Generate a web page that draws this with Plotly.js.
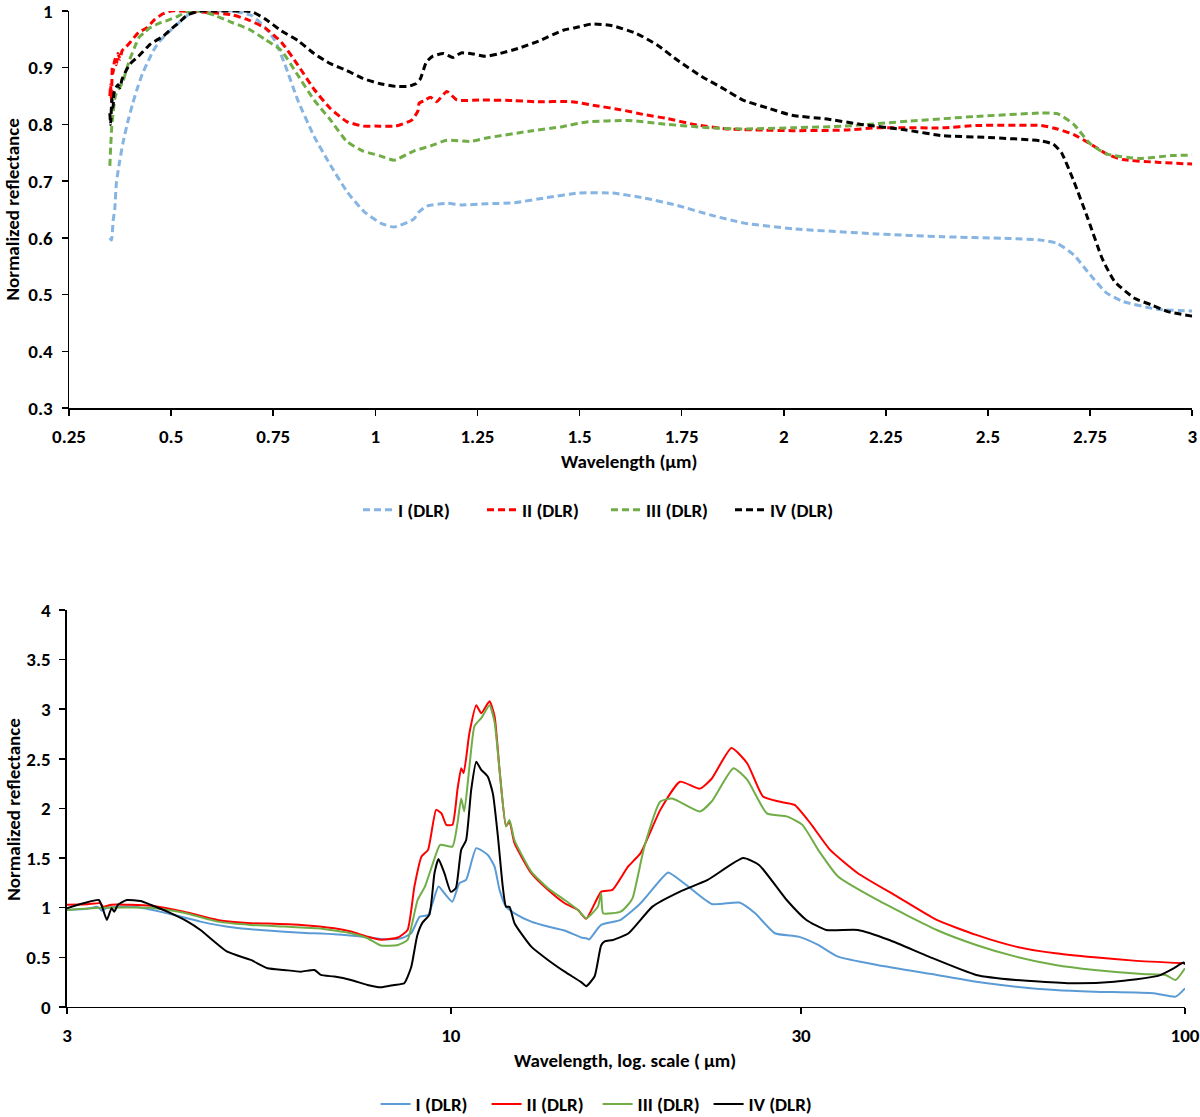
<!DOCTYPE html>
<html>
<head>
<meta charset="utf-8">
<script src="https://cdn.plot.ly/plotly-3.0.1.min.js"></script>
<style>
  body { margin: 0; background: #fff; }
  #chart { width: 1200px; height: 1117px; }
</style>
</head>
<body>
<div id="chart"></div>
<script>
//Series names (same for both panels)
var names = ['I (DLR)', 'II (DLR)', 'III (DLR)', 'IV (DLR)'];

//Top panel: VIS-NIR spectra, wavelength in um, linear scale
var visX1 = [0.35,0.354,0.358,0.362,0.366,0.374,0.382,0.394,0.406,0.418,0.43,0.443,0.455,0.47,0.49,0.52,0.544,0.57,0.60,0.648,0.697,0.73,0.754,0.778,0.81,0.85,0.891,0.932,0.973,1.013,1.046,1.094,1.106,1.126,1.175,1.21,1.272,1.34,1.42,1.498,1.58,1.66,1.74,1.822,1.903,2.024,2.226,2.388,2.55,2.63,2.67,2.71,2.75,2.79,2.83,2.915,3.0];
var visY1 = [0.60,0.596,0.63,0.65,0.697,0.735,0.767,0.805,0.837,0.865,0.89,0.91,0.928,0.945,0.96,0.98,0.994,1.0,1.0,1.0,0.992,0.971,0.948,0.907,0.843,0.779,0.727,0.68,0.646,0.626,0.619,0.633,0.645,0.656,0.661,0.658,0.66,0.662,0.671,0.679,0.679,0.67,0.657,0.64,0.626,0.616,0.607,0.602,0.599,0.596,0.59,0.57,0.535,0.503,0.488,0.474,0.471];

var visX2 = [0.35,0.352,0.354,0.356,0.358,0.362,0.366,0.37,0.375,0.38,0.39,0.40,0.42,0.44,0.46,0.48,0.50,0.55,0.60,0.65,0.69,0.73,0.77,0.81,0.85,0.89,0.93,0.97,1.00,1.05,1.09,1.105,1.107,1.12,1.135,1.15,1.175,1.20,1.26,1.34,1.39,1.48,1.54,1.60,1.66,1.71,1.78,1.86,1.95,2.02,2.15,2.23,2.39,2.47,2.63,2.67,2.71,2.75,2.79,2.83,2.92,3.0];
var visY2 = [0.85,0.87,0.84,0.9,0.89,0.915,0.905,0.925,0.915,0.93,0.937,0.945,0.962,0.97,0.985,0.995,1.0,0.999,0.997,0.993,0.984,0.97,0.945,0.905,0.862,0.828,0.805,0.797,0.797,0.797,0.808,0.825,0.837,0.842,0.848,0.84,0.858,0.843,0.843,0.842,0.84,0.84,0.833,0.826,0.817,0.811,0.80,0.792,0.79,0.789,0.79,0.794,0.794,0.798,0.798,0.792,0.782,0.766,0.748,0.738,0.733,0.73];

var visX3 = [0.35,0.352,0.355,0.358,0.362,0.366,0.374,0.382,0.39,0.398,0.41,0.422,0.435,0.447,0.47,0.49,0.515,0.536,0.568,0.608,0.648,0.69,0.73,0.77,0.81,0.85,0.89,0.93,0.97,1.01,1.046,1.094,1.135,1.175,1.232,1.272,1.377,1.458,1.514,1.62,1.70,1.82,1.90,2.02,2.15,2.31,2.47,2.63,2.67,2.71,2.75,2.79,2.87,2.95,3.0];
var visY3 = [0.727,0.76,0.80,0.82,0.845,0.855,0.865,0.875,0.895,0.913,0.935,0.954,0.962,0.97,0.978,0.983,0.99,0.998,1.0,0.992,0.98,0.968,0.95,0.93,0.887,0.843,0.808,0.77,0.753,0.745,0.737,0.753,0.762,0.772,0.77,0.776,0.788,0.796,0.804,0.807,0.801,0.794,0.792,0.794,0.797,0.806,0.814,0.82,0.819,0.80,0.766,0.748,0.74,0.745,0.746];

var visX4 = [0.35,0.352,0.355,0.358,0.36,0.365,0.37,0.375,0.38,0.39,0.40,0.42,0.45,0.48,0.50,0.52,0.54,0.57,0.60,0.65,0.68,0.70,0.73,0.77,0.81,0.85,0.89,0.93,0.97,1.01,1.05,1.08,1.10,1.11,1.125,1.14,1.167,1.19,1.21,1.24,1.27,1.30,1.35,1.40,1.46,1.50,1.53,1.58,1.64,1.69,1.74,1.80,1.85,1.90,1.96,2.02,2.10,2.19,2.30,2.39,2.50,2.63,2.66,2.68,2.71,2.745,2.78,2.81,2.86,2.90,2.94,3.0];
var visY4 = [0.82,0.80,0.845,0.83,0.855,0.865,0.87,0.865,0.88,0.895,0.907,0.92,0.942,0.955,0.968,0.98,0.993,1.0,1.0,1.0,1.0,0.998,0.986,0.965,0.948,0.925,0.907,0.895,0.881,0.872,0.867,0.867,0.872,0.88,0.91,0.92,0.925,0.918,0.926,0.924,0.92,0.924,0.934,0.947,0.966,0.972,0.977,0.974,0.96,0.94,0.913,0.884,0.864,0.843,0.829,0.816,0.81,0.80,0.79,0.78,0.777,0.771,0.765,0.75,0.70,0.633,0.563,0.523,0.493,0.482,0.47,0.462];

//Bottom panel: TIR spectra, wavelength in um, log scale
var tirX1 = [3.0,3.2,3.3,3.35,3.4,3.71,4.11,4.56,5.06,5.63,6.25,6.94,7.70,8.12,8.56,8.83,9.07,9.31,9.62,9.80,10.05,10.27,10.49,10.83,11.23,11.47,11.65,11.89,12.21,12.87,13.56,14.29,15.05,15.29,15.43,16.02,17.03,18.13,19.29,19.77,20.78,22.66,24.71,25.97,27.62,29.76,31.65,33.68,38.1,45.9,51.95,58.83,66.6,75.3,90.7,97.1,100];
var tirY1 = [0.978,0.99,1.01,0.97,1.0,1.01,0.944,0.86,0.80,0.77,0.749,0.733,0.703,0.682,0.692,0.743,0.91,0.927,1.213,1.146,1.061,1.247,1.28,1.60,1.532,1.414,1.18,1.011,0.944,0.86,0.81,0.77,0.70,0.692,0.68,0.827,0.877,1.045,1.28,1.354,1.247,1.038,1.052,0.944,0.743,0.709,0.625,0.507,0.423,0.323,0.255,0.205,0.171,0.154,0.138,0.104,0.188];

var tirX2 = [3.0,3.2,3.33,3.36,3.45,3.9,4.33,4.81,5.34,5.63,6.25,6.94,7.31,7.70,8.03,8.47,8.73,8.92,9.12,9.31,9.55,9.71,9.86,10.05,10.21,10.33,10.41,10.6,10.83,11.0,11.29,11.47,11.65,11.89,12.02,12.21,12.87,13.56,14.29,14.9,15.29,16.03,16.6,17.43,18.13,19.29,20.52,21.83,22.66,24.11,25.33,26.62,27.97,29.39,30.89,32.86,35.84,40.56,45.9,51.95,58.83,66.6,75.3,85.2,100];
var tirY2 = [1.03,1.035,1.045,1.01,1.03,1.02,0.96,0.877,0.844,0.84,0.827,0.793,0.76,0.709,0.678,0.70,0.776,1.213,1.515,1.583,1.986,1.95,1.835,1.835,2.19,2.406,2.355,2.76,3.04,2.96,3.08,2.93,2.39,1.82,1.87,1.65,1.348,1.18,1.045,0.978,0.89,1.162,1.18,1.414,1.55,1.986,2.27,2.20,2.30,2.61,2.456,2.12,2.07,2.036,1.85,1.583,1.348,1.112,0.877,0.726,0.608,0.541,0.50,0.467,0.44];

var tirX3 = [3.0,3.33,3.9,4.33,4.81,5.34,5.93,6.58,7.31,7.70,8.03,8.47,8.73,9.01,9.22,9.47,9.67,10.05,10.21,10.33,10.43,10.6,10.77,11.0,11.29,11.47,11.65,11.89,12.02,12.21,12.87,13.56,14.29,14.9,15.29,15.86,16.02,16.12,16.6,17.03,17.43,17.69,18.35,19.29,20.02,21.83,22.66,24.26,25.33,26.95,28.67,30.12,31.65,33.68,38.1,45.9,51.95,58.83,66.6,75.3,87.4,94.1,97.1,100];
var tirY3 = [0.978,1.0,1.0,0.95,0.86,0.827,0.81,0.793,0.743,0.692,0.62,0.625,0.675,1.078,1.213,1.465,1.633,1.616,1.85,2.10,1.97,2.42,2.83,2.91,3.04,2.87,2.39,1.82,1.885,1.68,1.364,1.196,1.078,0.978,0.894,1.011,1.146,0.944,0.944,0.96,1.03,1.10,1.616,2.07,2.10,1.97,2.07,2.406,2.29,1.95,1.92,1.835,1.583,1.314,1.078,0.776,0.625,0.507,0.423,0.373,0.333,0.323,0.272,0.39];

var tirX4 = [3.0,3.16,3.315,3.35,3.40,3.45,3.48,3.52,3.62,3.78,3.90,4.11,4.38,4.56,4.96,5.34,5.63,5.93,6.25,6.52,6.65,6.94,7.31,7.70,8.03,8.37,8.64,8.83,9.0,9.15,9.35,9.50,9.62,9.80,10.0,10.16,10.33,10.49,10.66,10.83,11.0,11.23,11.41,11.59,11.77,11.89,12.02,12.21,12.87,13.56,14.29,15.05,15.29,15.7,16.02,16.2,16.62,17.46,18.82,20.52,22.38,25.01,26.29,28.67,30.5,32.45,35.84,39.56,44.78,51.95,58.83,70.8,80.1,91.9,96.5,99.5,100];
var tirY4 = [0.995,1.045,1.078,1.01,0.877,0.995,0.96,1.03,1.078,1.068,1.03,0.96,0.86,0.776,0.557,0.474,0.39,0.373,0.356,0.373,0.323,0.306,0.272,0.222,0.198,0.222,0.239,0.40,0.72,0.85,0.93,1.348,1.49,1.348,1.16,1.20,1.583,1.68,2.19,2.47,2.39,2.32,2.15,1.72,1.21,1.01,1.01,0.844,0.608,0.474,0.356,0.25,0.21,0.31,0.62,0.66,0.675,0.743,1.011,1.162,1.28,1.50,1.431,1.078,0.877,0.776,0.776,0.675,0.507,0.323,0.272,0.239,0.255,0.313,0.39,0.447,0.43];

//Tick values and labels
var visXTicks = [0.25,0.5,0.75,1,1.25,1.5,1.75,2,2.25,2.5,2.75,3];
var visXTickText = ['0.25','0.5','0.75','1','1.25','1.5','1.75','2','2.25','2.5','2.75','3'];
var visYTicks = [0.3,0.4,0.5,0.6,0.7,0.8,0.9,1];
var visYTickText = ['0.3','0.4','0.5','0.6','0.7','0.8','0.9','1'];
var tirXTicks = [3,10,30,100];
var tirXTickText = ['3','10','30','100'];
var tirYTicks = [0,0.5,1,1.5,2,2.5,3,3.5,4];
var tirYTickText = ['0','0.5','1','1.5','2','2.5','3','3.5','4'];

var visXs = [visX1, visX2, visX3, visX4];
var visYs = [visY1, visY2, visY3, visY4];
var tirXs = [tirX1, tirX2, tirX3, tirX4];
var tirYs = [tirY1, tirY2, tirY3, tirY4];

var visColors = ['#86B4E3', '#FF0000', '#70AD47', '#000000'];
var tirColors = ['#5B9BD5', '#FF0000', '#70AD47', '#000000'];

var FONT = "Carlito, 'Liberation Sans Narrow', 'DejaVu Sans Condensed', sans-serif";

var data = [];
//Top panel traces (dashed)
for (var i = 0; i < 4; i++) {
    data.push({
        x: visXs[i], y: visYs[i], xaxis: 'x', yaxis: 'y',
        type: 'scatter', mode: 'lines', name: names[i], legend: 'legend',
        line: {color: visColors[i], width: 3, dash: '7px,4px', shape: 'spline', smoothing: 0.5}
    });
}
//Bottom panel traces (solid)
for (var i = 0; i < 4; i++) {
    data.push({
        x: tirXs[i], y: tirYs[i], xaxis: 'x2', yaxis: 'y2',
        type: 'scatter', mode: 'lines', name: names[i], legend: 'legend2',
        line: {color: tirColors[i], width: 2, shape: 'spline', smoothing: 0.5}
    });
}

var tickFont = {family: FONT, size: 19, color: '#000', weight: 'bold'};
var axisCommon = {
    showline: true, linecolor: '#000', linewidth: 1.5, mirror: false,
    showgrid: false, zeroline: false, ticks: 'outside', ticklen: 6,
    tickwidth: 1.5, tickcolor: '#000', tickfont: tickFont, fixedrange: true,
    tickmode: 'array', ticklabeloverflow: 'allow', ticklabelstandoff: 5
};

function ax(extra) {
    var o = {};
    for (var k in axisCommon) o[k] = axisCommon[k];
    for (var k in extra) o[k] = extra[k];
    return o;
}

var titleFont = {family: FONT, size: 19, color: '#000', weight: 'bold'};
var legendFont = {family: FONT, size: 19, color: '#000', weight: 'bold'};

var layout = {
    width: 1200, height: 1117,
    margin: {l: 0, r: 0, t: 0, b: 0, autoexpand: false},
    paper_bgcolor: '#fff', plot_bgcolor: '#fff',
    font: {family: FONT, size: 19, color: '#000'},
    xaxis: ax({domain: [0.0575, 0.9935], anchor: 'y', range: [0.25, 3],
        tickvals: visXTicks, ticktext: visXTickText}),
    yaxis: ax({domain: [0.6347, 0.9902], anchor: 'x', range: [0.3, 1],
        tickvals: visYTicks, ticktext: visYTickText}),
    xaxis2: ax({domain: [0.0558, 0.9875], anchor: 'y2', type: 'log',
        range: [Math.log10(3), 2], tickvals: tirXTicks, ticktext: tirXTickText}),
    yaxis2: ax({domain: [0.0985, 0.4539], anchor: 'x2', range: [0, 4],
        tickvals: tirYTicks, ticktext: tirYTickText}),
    legend: {orientation: 'h', x: 0.505, xanchor: 'center', y: 0.5434, yanchor: 'middle',
        font: legendFont, bgcolor: 'rgba(0,0,0,0)', itemwidth: 30,
        entrywidth: 79, entrywidthmode: 'pixels'},
    legend2: {orientation: 'h', x: 0.498, xanchor: 'center', y: 0.0116, yanchor: 'middle',
        font: legendFont, bgcolor: 'rgba(0,0,0,0)', itemwidth: 30,
        entrywidth: 66, entrywidthmode: 'pixels'},
    annotations: [
        {text: 'Wavelength (µm)', xref: 'paper', yref: 'paper', x: 0.5242, y: 0.5864,
         xanchor: 'center', yanchor: 'middle', showarrow: false, font: titleFont},
        {text: 'Wavelength, log. scale ( µm)', xref: 'paper', yref: 'paper', x: 0.5208, y: 0.0510,
         xanchor: 'center', yanchor: 'middle', showarrow: false, font: titleFont},
        {text: 'Normalized reflectance', xref: 'paper', yref: 'paper', x: 0.0105, y: 0.812,
         xanchor: 'center', yanchor: 'middle', showarrow: false, textangle: -90, font: titleFont},
        {text: 'Normalized reflectance', xref: 'paper', yref: 'paper', x: 0.0105, y: 0.2748,
         xanchor: 'center', yanchor: 'middle', showarrow: false, textangle: -90, font: titleFont}
    ]
};

Plotly.newPlot('chart', data, layout, {staticPlot: true, displayModeBar: false});
</script>
</body>
</html>
